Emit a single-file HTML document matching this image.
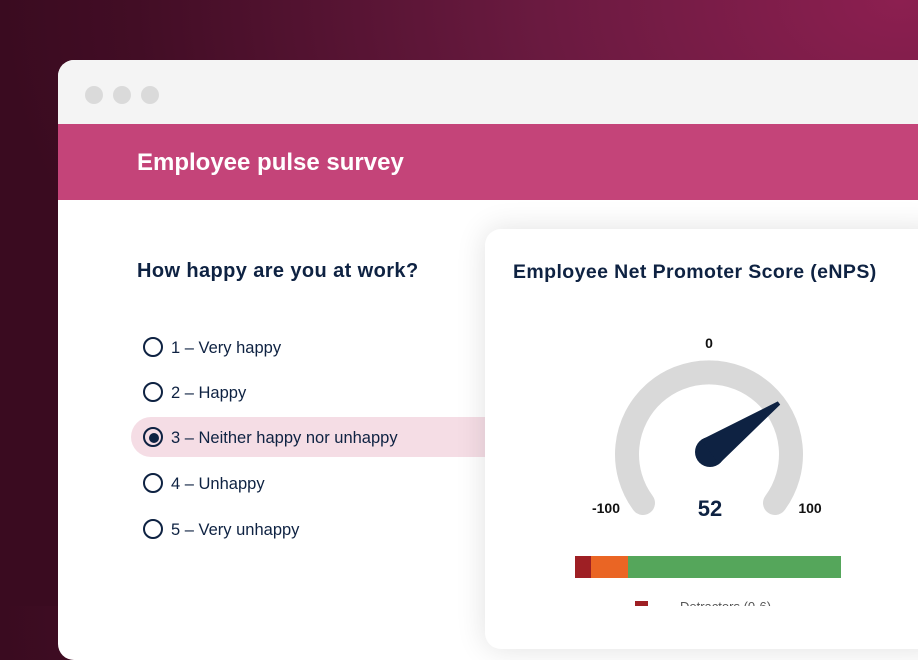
<!DOCTYPE html>
<html><head><meta charset="utf-8"><style>
html,body{margin:0;padding:0}
body{width:918px;height:606px;overflow:hidden;position:relative;font-family:"Liberation Sans",sans-serif;
background:radial-gradient(ellipse 900px 600px at 900px 0px,#8c1f50 0%,#6a1a40 40%,#420d25 85%,#3a0b20 100%);}
.win{position:absolute;left:58px;top:60px;width:900px;height:600px;background:#fff;border-radius:16px;overflow:hidden}
.top{height:64px;background:#f4f4f4;position:relative}
.dot{position:absolute;top:26px;width:18px;height:18px;border-radius:50%;background:#dadada}
.hdr{height:76px;background:#c44479;color:#fff;font-weight:bold;font-size:24px;line-height:78px;padding-left:79px}
.q{position:absolute;left:79px;top:200px;font-size:20px;font-weight:bold;color:#0e2242;letter-spacing:0.4px}
.opt{position:absolute;left:85px;font-size:16.5px;color:#0e2242;height:20px;line-height:20px}
.opt i{position:absolute;left:0;top:0;width:16px;height:16px;border:2px solid #0e2242;border-radius:50%;box-sizing:content-box;margin-top:-1px}
.opt span{position:absolute;left:28px;white-space:nowrap}
.hl{position:absolute;left:73px;top:357px;width:380px;height:40px;background:#f5dde5;border-radius:20px 0 0 20px}
.card{position:absolute;left:485px;top:229px;width:460px;height:420px;background:#fff;border-radius:16px;box-shadow:0 0 30px rgba(0,0,0,0.12)}
</style></head><body>
<div class="win">
<div class="top"><div class="dot" style="left:27px"></div><div class="dot" style="left:55px"></div><div class="dot" style="left:83px"></div></div>
<div class="hdr">Employee pulse survey</div>
<div class="q">How happy are you at work?</div>
<div class="hl"></div>
<div class="opt" style="top:278px"><i></i><span>1 – Very happy</span></div>
<div class="opt" style="top:323px"><i></i><span>2 – Happy</span></div>
<div class="opt" style="top:368px"><i></i><span>3 – Neither happy nor unhappy</span></div>
<div class="opt" style="top:414px"><i></i><span>4 – Unhappy</span></div>
<div class="opt" style="top:460px"><i></i><span>5 – Very unhappy</span></div>
<div style="position:absolute;left:91px;top:373px;width:10px;height:10px;border-radius:50%;background:#0e2242"></div>
</div>
<div class="card"></div>
<svg style="position:absolute;left:0;top:0" width="918" height="606">
<text x="513" y="278" font-family="Liberation Sans" font-weight="bold" font-size="19.5" letter-spacing="0.4" fill="#0e2242">Employee Net Promoter Score (eNPS)</text>
<text x="709" y="348" text-anchor="middle" font-family="Liberation Sans" font-weight="bold" font-size="14" fill="#111">0</text>
<path d="M643 503 A82 82 0 1 1 775 503" fill="none" stroke="#d9d9d9" stroke-width="24" stroke-linecap="round"/>
<circle cx="710" cy="452" r="15" fill="#0e2242"/>
<polygon points="701.3,439.8 777.8,401.4 780.2,404.6 718.7,464.2" fill="#0e2242"/>
<text x="606" y="513" text-anchor="middle" font-family="Liberation Sans" font-weight="bold" font-size="14" fill="#111">-100</text>
<text x="810" y="513" text-anchor="middle" font-family="Liberation Sans" font-weight="bold" font-size="14" fill="#111">100</text>
<text x="710" y="516" text-anchor="middle" font-family="Liberation Sans" font-weight="bold" font-size="22" fill="#0e2242">52</text>
<rect x="575" y="556" width="16" height="22" fill="#9e1f24"/>
<rect x="591" y="556" width="37" height="22" fill="#ea6524"/>
<rect x="628" y="556" width="213" height="22" fill="#55a65b"/>
<rect x="635" y="601" width="13" height="8" fill="#9e1f24"/>
<text x="680" y="611" font-family="Liberation Sans" font-size="13" fill="#555">Detractors (0-6)</text>
</svg>
</body></html>
